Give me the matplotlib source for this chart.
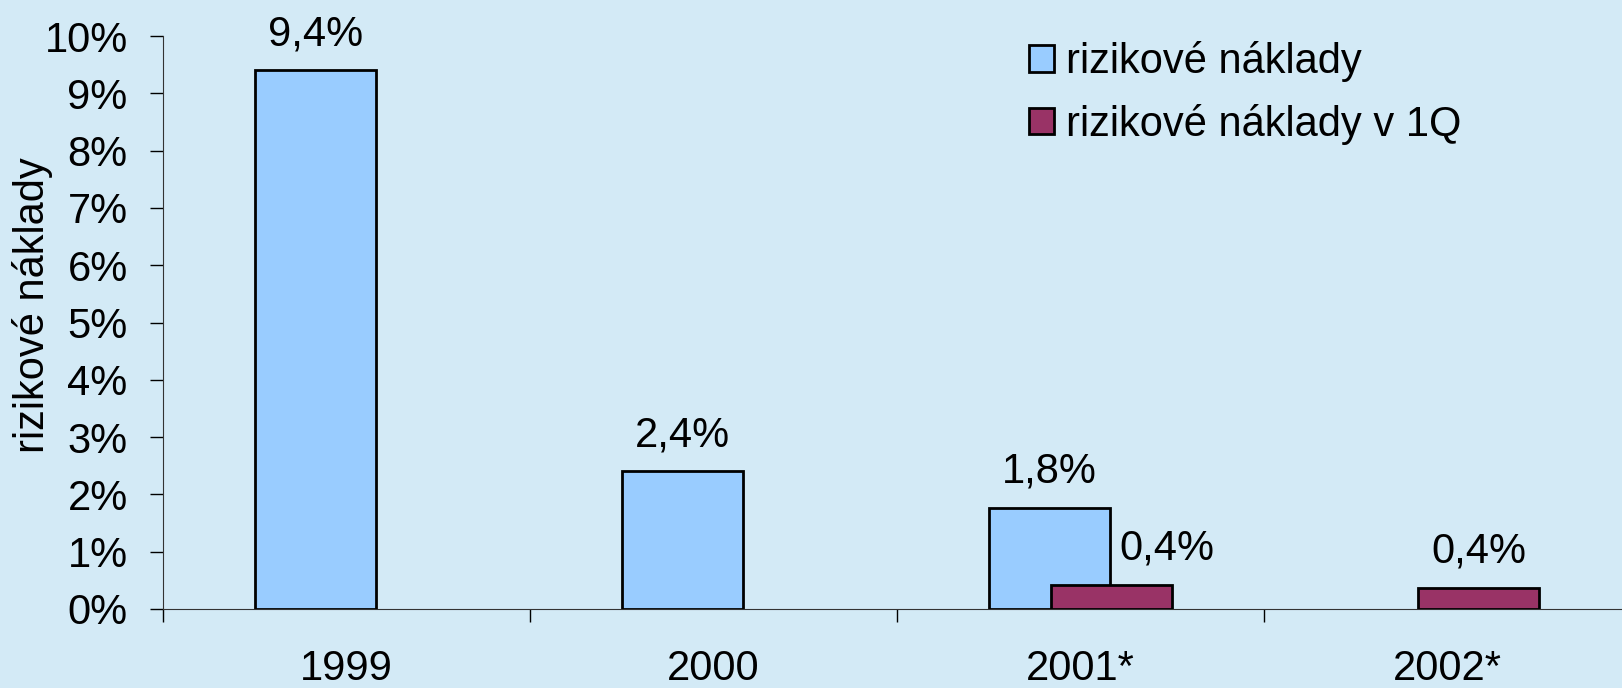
import numpy as np
import matplotlib
matplotlib.use("Agg")
import matplotlib.pyplot as plt

# Data
years = ["1999", "2000", "2001*", "2002*"]
rizikove = [9.4, 2.4, 1.77, np.nan]
rizikove_labels = ["9,4%", "2,4%", "1,8%", ""]
rizikove_1q = [np.nan, np.nan, 0.42, 0.37]
rizikove_1q_labels = ["", "", "0,4%", "0,4%"]
yticks = [0, 1, 2, 3, 4, 5, 6, 7, 8, 9, 10]

BG = "#D3EAF6"
BLUE = "#99CCFF"
MAROON = "#993366"
FS = 30

plt.rcParams["font.family"] = ["Liberation Sans", "DejaVu Sans"]

W, H = 1622, 688
fig = plt.figure(figsize=(W / 100, H / 100), dpi=100, facecolor=BG)
# axes placed in pixel terms: x from 163 to ~1631, y from 609 (0%) to 36 (10%)
ax = fig.add_axes([163 / W, 1 - 609 / H, 1468 / W, (609 - 36) / H])
ax.set_facecolor(BG)

x = np.arange(len(years))
width = 0.33
offset = 0.085

b1 = ax.bar(x - offset, rizikove, width, color=BLUE, edgecolor="black",
            linewidth=2, label="rizikové náklady", zorder=2)
b2 = ax.bar(x + offset, rizikove_1q, width, color=MAROON, edgecolor="black",
            linewidth=2, label="rizikové náklady v 1Q", zorder=3)

# value labels above the bars
nudge_1q = {2: 55}  # the 2001 1Q label sits to the right of its bar
for i, (v, t) in enumerate(zip(rizikove, rizikove_labels)):
    if t:
        ax.annotate(t, (x[i] - offset, v), xytext=(0, 18), textcoords="offset points",
                    ha="center", va="baseline", fontsize=FS)
for i, (v, t) in enumerate(zip(rizikove_1q, rizikove_1q_labels)):
    if t:
        ax.annotate(t, (x[i] + offset, v), xytext=(nudge_1q.get(i, 0) * 0.72, 18),
                    textcoords="offset points", ha="center", va="baseline", fontsize=FS)

ax.set_xlim(-0.5, len(years) - 0.5)
ax.set_ylim(0, 10)
ax.set_yticks(yticks)
ax.set_yticklabels([f"{t}%" for t in yticks], fontsize=FS)
ax.tick_params(axis="y", direction="out", length=9.4, width=1, pad=16, colors="black")

ax.set_xticks(x)
ax.set_xticklabels(years, fontsize=FS)
ax.set_xticks(np.arange(-0.5, len(years), 1), minor=True)
ax.tick_params(axis="x", which="major", length=0, pad=29)
ax.tick_params(axis="x", which="minor", direction="out", length=9.4, width=1)

for s in ["top", "right"]:
    ax.spines[s].set_visible(False)
ax.spines["left"].set_color("#333333")
ax.spines["bottom"].set_color("#333333")

fig.text(33 / W, 1 - 305 / H, "rizikové náklady", rotation=90, ha="center",
         va="center", fontsize=FS)

leg = ax.legend(loc="upper left", bbox_to_anchor=(1029 / W, 1 - 41 / H),
                bbox_transform=fig.transFigure, frameon=False, fontsize=FS,
                handlelength=0.6, handleheight=0.6, handletextpad=0.3,
                labelspacing=0.52, borderpad=0, borderaxespad=0)

fig.savefig("out.png", dpi=100, facecolor=BG)
